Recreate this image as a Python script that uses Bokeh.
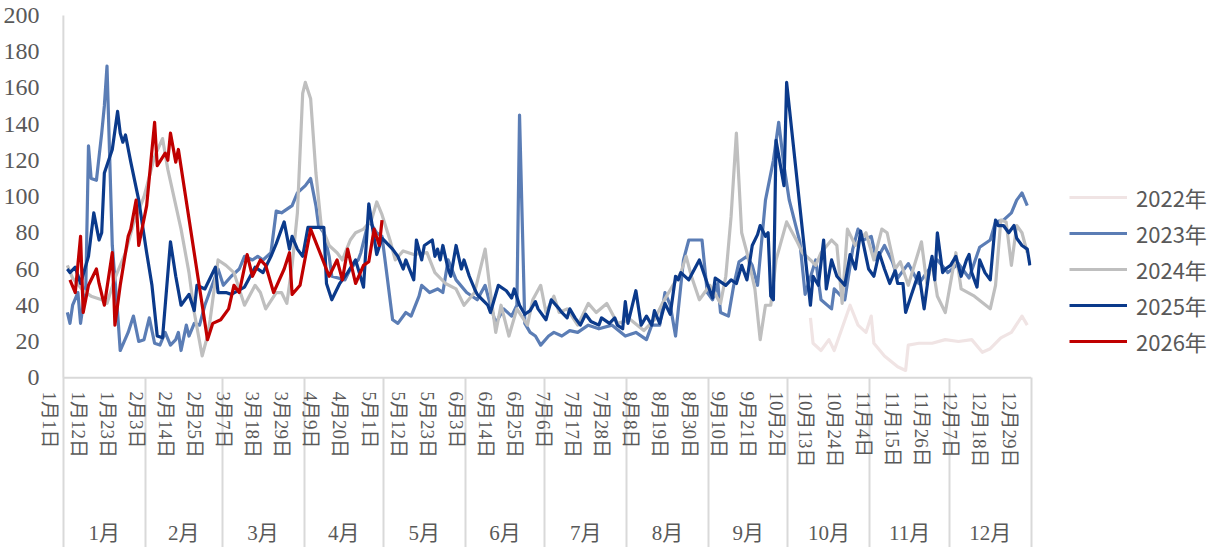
from bokeh.plotting import figure
from bokeh.models import Range1d, LinearAxis, FixedTicker, Legend, LegendItem
from bokeh.embed import file_html
from bokeh.resources import INLINE

# ---------------- data (day index: 0 = 1月1日, leap-year calendar) ----------------
MONTH_LABELS = ["1月", "2月", "3月", "4月", "5月", "6月", "7月", "8月", "9月", "10月", "11月", "12月"]
MONTH_LENGTHS = [31, 29, 31, 30, 31, 30, 31, 31, 30, 31, 30, 31]
DATE_TICK_LABELS = ["1月1日", "1月12日", "1月23日", "2月3日", "2月14日", "2月25日", "3月7日", "3月18日",
                    "3月29日", "4月9日", "4月20日", "5月1日", "5月12日", "5月23日", "6月3日", "6月14日",
                    "6月25日", "7月6日", "7月17日", "7月28日", "8月8日", "8月19日", "8月30日", "9月10日",
                    "9月21日", "10月2日", "10月13日", "10月24日", "11月4日", "11月15日", "11月26日",
                    "12月7日", "12月18日", "12月29日"]
Y_TICKS = [0, 20, 40, 60, 80, 100, 120, 140, 160, 180, 200]
SERIES_NAMES = ["2022年", "2023年", "2024年", "2025年", "2026年"]

d2022 = [282, 283, 286, 289, 291, 297, 300, 303, 305, 306, 310, 315, 318, 319, 323, 328, 333, 338, 343,
         347, 350, 354, 358, 362, 364]
v2022 = [33, 19, 15, 21, 15, 40, 29, 25, 34, 19, 12, 6, 4, 18, 19, 19, 21, 20, 21, 14, 16, 22, 25, 34, 29]

d2023 = [1, 2, 3, 5, 6, 8, 9, 10, 12, 14, 15, 16, 18, 20, 21, 24, 26, 28, 30, 32, 34, 36, 38, 40, 42, 43,
         44, 46, 47, 49, 51, 53, 56, 58, 60, 63, 66, 68, 71, 73, 75, 78, 80, 82, 86, 88, 91, 93, 95, 96, 98,
         100, 101, 106, 108, 111, 112, 115, 118, 120, 122, 124, 126, 129, 131, 134, 135, 138, 141, 143, 145,
         148, 152, 156, 159, 161, 163, 166, 169, 171, 172, 174, 176, 178, 180, 183, 185, 188, 191, 194, 198,
         202, 207, 212, 216, 220, 222, 225, 227, 229, 231, 234, 236, 241, 243, 245, 247, 248, 251, 253, 255,
         258, 260, 262, 265, 268, 270, 272, 274, 278, 280, 284, 286, 290, 291, 295, 298, 300, 302, 305, 307,
         310, 313, 315, 319, 323, 327, 330, 334, 338, 342, 346, 350, 352, 355, 358, 360, 362, 364]
v2023 = [36, 30, 40, 47, 30, 51, 128, 110, 109, 135, 150, 172, 73, 36, 15, 25, 34, 20, 21, 33, 19, 18, 25,
         18, 21, 25, 15, 29, 23, 30, 29, 40, 52, 60, 51, 56, 60, 67, 65, 67, 65, 69, 92, 91, 95, 102, 106,
         110, 95, 84, 80, 67, 56, 54, 60, 65, 69, 87, 80, 78, 55, 32, 30, 36, 34, 45, 51, 47, 49, 47, 65, 54,
         47, 43, 51, 40, 30, 38, 34, 40, 145, 30, 25, 23, 18, 23, 25, 23, 26, 25, 29, 27, 29, 23, 25, 21, 29,
         29, 47, 40, 23, 65, 76, 76, 47, 43, 52, 36, 34, 51, 64, 67, 62, 51, 98, 120, 141, 117, 98, 75, 46,
         65, 43, 38, 49, 43, 71, 82, 76, 78, 65, 73, 64, 55, 63, 52, 60, 65, 58, 63, 55, 72, 76, 86, 87, 91,
         98, 102, 95]

d2024 = [1, 3, 7, 10, 14, 16, 19, 23, 26, 30, 34, 37, 39, 44, 47, 49, 52, 54, 55, 58, 61, 64, 68, 72, 74,
         76, 80, 82, 84, 86, 88, 90, 91, 93, 95, 97, 100, 103, 105, 108, 110, 113, 116, 118, 120, 123, 125,
         128, 132, 137, 140, 144, 148, 151, 155, 158, 159, 161, 163, 165, 168, 171, 175, 177, 180, 182, 185,
         187, 190, 194, 198, 201, 205, 209, 214, 219, 223, 226, 230, 233, 235, 237, 240, 244, 248, 250, 252,
         254, 256, 258, 261, 263, 265, 267, 269, 273, 277, 279, 282, 284, 286, 290, 292, 294, 296, 299, 303,
         306, 309, 311, 314, 316, 319, 324, 326, 328, 330, 333, 337, 339, 344, 350, 352, 354, 356, 358, 360,
         362, 364]
v2024 = [62, 55, 48, 45, 43, 41, 55, 69, 85, 100, 122, 132, 115, 82, 58, 36, 12, 23, 32, 65, 62, 58, 40,
         51, 47, 38, 47, 47, 41, 62, 91, 157, 163, 154, 113, 84, 73, 69, 65, 76, 80, 82, 87, 97, 90, 76, 65,
         70, 68, 69, 58, 52, 49, 40, 47, 65, 71, 47, 25, 40, 23, 38, 29, 43, 51, 36, 45, 36, 38, 29, 41, 36,
         41, 30, 32, 26, 32, 41, 51, 58, 67, 56, 43, 51, 41, 56, 89, 135, 80, 69, 49, 21, 40, 40, 65, 86, 75,
         69, 65, 62, 69, 76, 73, 41, 82, 73, 80, 65, 82, 80, 60, 64, 51, 75, 52, 64, 45, 36, 69, 49, 45, 38,
         51, 87, 86, 62, 84, 80, 69]

d2025 = [1, 2, 4, 6, 9, 11, 13, 14, 15, 18, 20, 21, 22, 23, 25, 28, 31, 33, 35, 37, 40, 42, 44, 47, 49, 50,
         53, 57, 58, 61, 63, 68, 72, 75, 78, 80, 83, 85, 86, 88, 90, 92, 98, 99, 101, 104, 107, 110, 113, 115,
         118, 120, 124, 126, 128, 129, 132, 133, 135, 136, 139, 140, 141, 142, 143, 145, 146, 148, 150, 151,
         153, 155, 156, 158, 160, 161, 164, 167, 169, 170, 172, 174, 176, 178, 179, 182, 184, 187, 188, 190,
         191, 193, 195, 197, 199, 202, 203, 206, 208, 209, 211, 212, 213, 216, 218, 220, 222, 223, 225, 227,
         229, 231, 232, 233, 236, 240, 243, 245, 246, 250, 252, 254, 256, 258, 260, 262, 263, 265, 266, 267,
         268, 269, 272, 273, 282, 283, 285, 287, 288, 290, 292, 295, 297, 299, 301, 303, 304, 306, 308, 310,
         312, 314, 315, 317, 318, 320, 323, 325, 327, 328, 329, 330, 332, 333, 335, 337, 339, 341, 342, 343,
         345, 346, 348, 350, 352, 353, 355, 357, 359, 360, 362, 364, 365]
v2025 = [60, 58, 61, 52, 67, 91, 76, 80, 113, 126, 147, 135, 130, 134, 119, 98, 69, 51, 23, 22, 75, 56, 40,
         46, 37, 51, 49, 61, 47, 47, 46, 50, 61, 58, 67, 74, 86, 71, 78, 71, 67, 83, 83, 52, 43, 52, 58, 65,
         50, 96, 68, 77, 71, 67, 60, 65, 54, 76, 65, 73, 76, 67, 71, 65, 73, 60, 56, 73, 60, 65, 56, 49, 46,
         43, 40, 36, 51, 48, 44, 49, 40, 35, 37, 42, 38, 32, 43, 38, 36, 33, 38, 33, 29, 35, 31, 29, 33, 30,
         33, 29, 27, 42, 30, 48, 29, 34, 29, 37, 30, 41, 35, 56, 54, 58, 54, 65, 52, 44, 55, 51, 54, 52, 62,
         54, 73, 79, 84, 78, 80, 45, 43, 131, 106, 163, 40, 56, 51, 76, 49, 65, 56, 51, 68, 60, 81, 67, 60,
         56, 69, 60, 52, 59, 52, 52, 36, 45, 58, 38, 60, 67, 54, 80, 58, 60, 62, 67, 56, 65, 68, 58, 50, 65,
         58, 54, 87, 84, 84, 80, 84, 77, 73, 71, 62]

d2026 = [2, 4, 6, 7, 9, 12, 13, 15, 18, 19, 21, 24, 25, 27, 28, 31, 34, 35, 38, 39, 40, 42, 43, 54, 56, 59,
         62, 64, 66, 69, 71, 74, 76, 79, 83, 85, 86, 89, 93, 96, 100, 103, 105, 107, 110, 113, 115, 117, 119,
         120]
v2026 = [54, 47, 78, 36, 51, 60, 52, 40, 69, 29, 51, 78, 82, 98, 73, 95, 141, 117, 124, 120, 135, 119, 126,
         21, 30, 32, 38, 51, 47, 68, 56, 65, 62, 47, 60, 69, 46, 51, 82, 71, 56, 65, 54, 71, 52, 62, 64, 82,
         73, 87]

SERIES = [(d2022, v2022), (d2023, v2023), (d2024, v2024), (d2025, v2025), (d2026, v2026)]
COLORS = ["#F0E4E4", "#5B7DB5", "#BFBFBF", "#0B3A8B", "#C00000"]

# ---------------- derived calendar positions ----------------
month_starts = [sum(MONTH_LENGTHS[:i]) for i in range(12)]
n_days = sum(MONTH_LENGTHS)
boundaries = [s - 0.5 for s in month_starts] + [n_days - 0.5]
month_mids = [(boundaries[i] + boundaries[i + 1]) / 2 for i in range(12)]


def day_of(label):
    m, d = label.replace("日", "").split("月")
    return month_starts[int(m) - 1] + int(d) - 1


tick_days = [day_of(t) for t in DATE_TICK_LABELS]

TEXT = "#595959"
RULE = "#D9D9D9"
SERIF = "Liberation Serif, Noto Sans CJK SC"
LABEL_SHIFT = 5.9          # Excel draws the rotated date labels left of their category
X_START, X_END = -6.5, n_days - 0.4
Y_START, Y_END = -1.0, 200.5
SEP_LEN = 170

p = figure(frame_width=984, frame_height=365, x_range=Range1d(X_START, X_END),
           y_range=Range1d(Y_START, Y_END), x_axis_location=None,
           output_backend="svg", toolbar_location=None)
p.min_border = 0
p.min_border_left = 41
p.min_border_right = 173
p.min_border_top = 14
p.outline_line_color = None
p.grid.visible = False
p.background_fill_color = "white"
p.border_fill_color = "white"

# y axis
ya = p.yaxis[0]
ya.ticker = FixedTicker(ticks=Y_TICKS)
ya.axis_line_color = None
ya.major_tick_line_color = None
ya.minor_tick_line_color = None
ya.major_label_standoff = 2
ya.major_label_text_font = "Liberation Serif"
ya.major_label_text_font_size = "24px"
ya.major_label_text_color = TEXT

# axis rules (L shape) drawn in data space
p.segment(x0=[boundaries[0], boundaries[0]], y0=[Y_TICKS[0], Y_TICKS[0]],
          x1=[boundaries[0], boundaries[-1]], y1=[Y_TICKS[-1], Y_TICKS[0]],
          line_color=RULE, line_width=2)

# date labels axis (shifted range) with month separators as long minor ticks
p.extra_x_ranges = {"dates": Range1d(X_START + LABEL_SHIFT, X_END + LABEL_SHIFT)}
date_axis = LinearAxis(
    x_range_name="dates",
    ticker=FixedTicker(ticks=tick_days, minor_ticks=[b + LABEL_SHIFT for b in boundaries]),
    major_label_overrides={d: lab for d, lab in zip(tick_days, DATE_TICK_LABELS)},
    major_label_orientation="vertical",
    axis_line_color=None, major_tick_line_color=None,
    minor_tick_line_color=RULE, minor_tick_line_width=2, minor_tick_in=2, minor_tick_out=SEP_LEN,
    major_label_standoff=12 - SEP_LEN, major_label_text_font=SERIF,
    major_label_text_font_size="19px", major_label_text_color=TEXT)
p.add_layout(date_axis, "below")

month_axis = LinearAxis(
    ticker=FixedTicker(ticks=month_mids),
    major_label_overrides={m: lab for m, lab in zip(month_mids, MONTH_LABELS)},
    axis_line_color=None, major_tick_line_color=None, minor_tick_line_color=None,
    major_label_standoff=44, major_label_text_font=SERIF,
    major_label_text_font_size="21px", major_label_text_color=TEXT)
p.add_layout(month_axis, "below")

renderers = []
for (dx, vy), c in zip(SERIES, COLORS):
    r = p.line(x=dx, y=vy, line_color=c, line_width=3.2, line_join="round")
    renderers.append(r)

legend = Legend(items=[LegendItem(label=n, renderers=[r]) for n, r in zip(SERIES_NAMES, renderers)],
                location=(38, 22), orientation="vertical",
                glyph_width=58, glyph_height=20, label_height=20, label_standoff=9,
                spacing=4, padding=0, margin=0, border_line_color=None,
                background_fill_alpha=0, label_text_font="Noto Sans CJK SC",
                label_text_font_size="22px", label_text_color=TEXT)
p.add_layout(legend, "right")

open("out.html", "w").write(file_html(p, INLINE))
